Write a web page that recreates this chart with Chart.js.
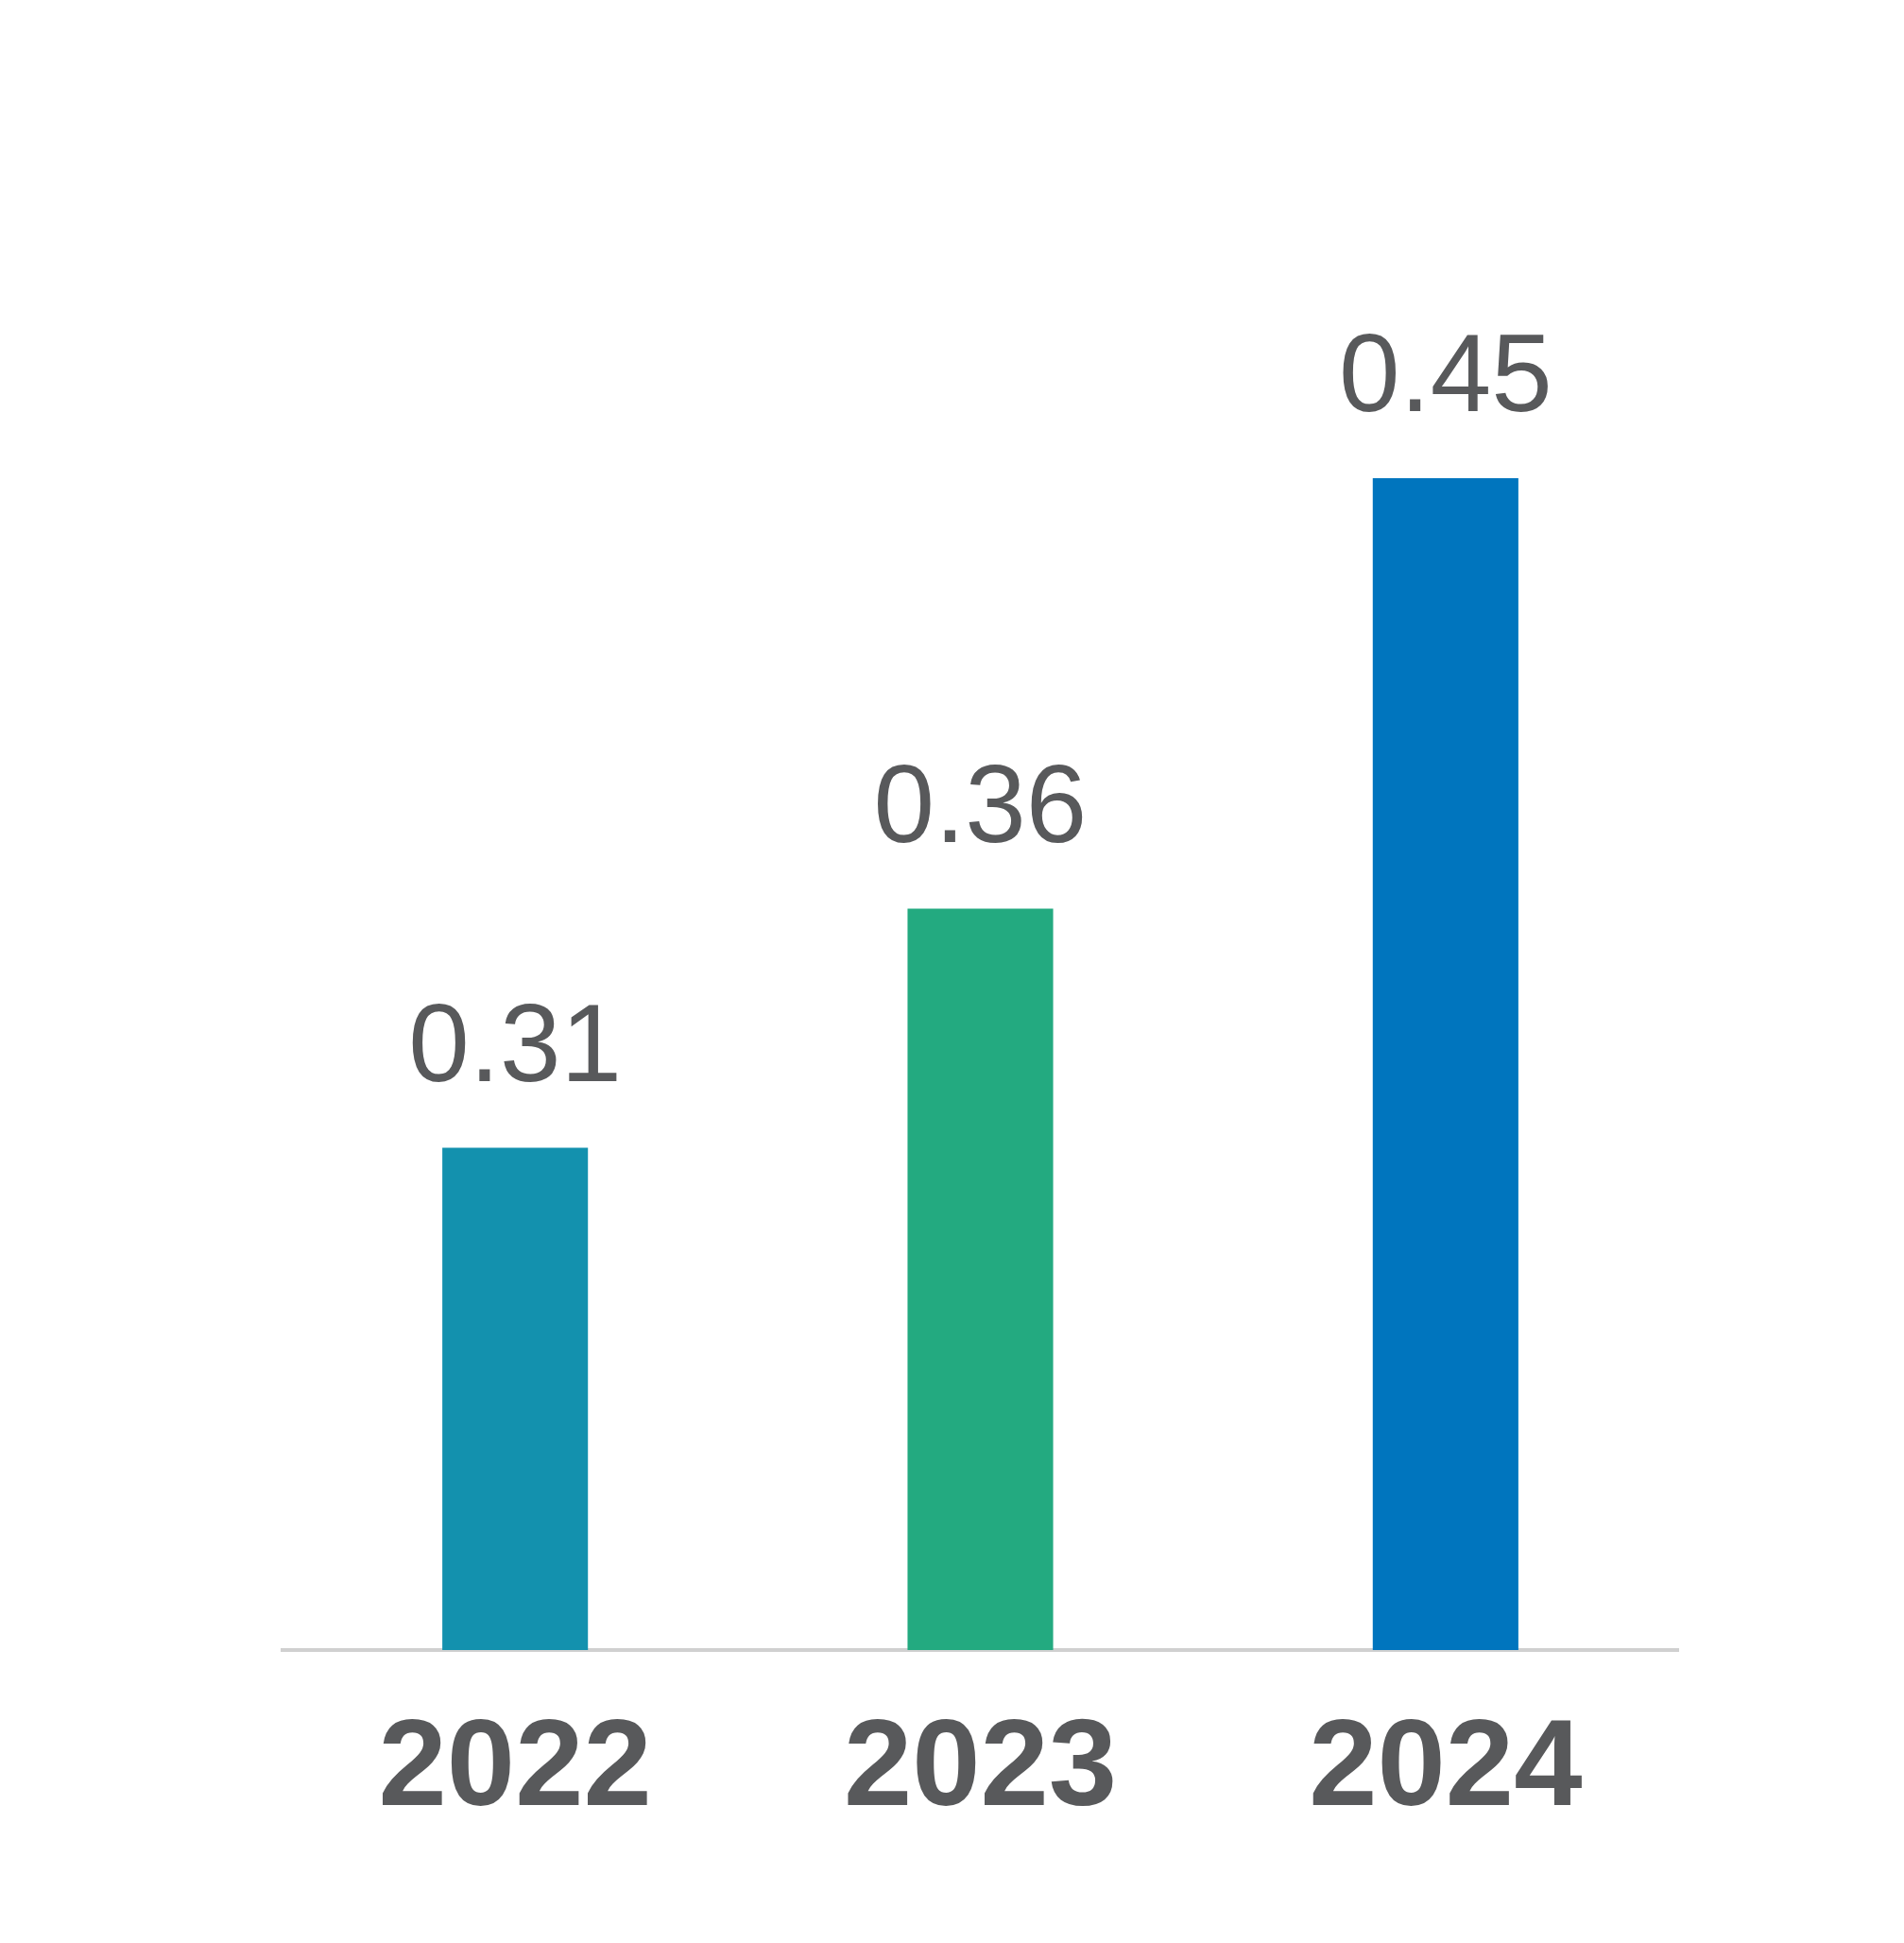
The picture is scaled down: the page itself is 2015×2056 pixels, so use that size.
<!DOCTYPE html>
<html>
<head>
<meta charset="utf-8">
<script src="https://cdn.jsdelivr.net/npm/chart.js@4"></script>
<style>
  body { margin: 0; background: #fff; }
  #wrap { width: 2015px; height: 2056px; }
</style>
</head>
<body>
<div id="wrap"><canvas id="chart"></canvas></div>
<script>
const years = ['2022', '2023', '2024'];
const values = [0.31, 0.36, 0.45];
const barColors = ['#1391AE', '#23AA80', '#0075BE'];
const textColor = '#58595B';

// value labels above each bar
const valueLabels = {
    id: 'valueLabels',
    afterDatasetsDraw(chart) {
        const ctx = chart.ctx;
        const meta = chart.getDatasetMeta(0);
        ctx.save();
        ctx.fillStyle = textColor;
        ctx.font = '116px "Liberation Sans", Arial, sans-serif';
        ctx.textAlign = 'center';
        ctx.textBaseline = 'bottom';
        meta.data.forEach(function(bar, i) {
            ctx.fillText(values[i].toFixed(2), bar.x, bar.y - 45);
        });
        ctx.restore();
    }
};

new Chart(document.getElementById('chart'), {
    type: 'bar',
    data: {
        labels: years,
        datasets: [{
            data: values,
            backgroundColor: barColors,
            barPercentage: 0.313,
            categoryPercentage: 1
        }]
    },
    options: {
        responsive: true,
        maintainAspectRatio: false,
        animation: false,
        layout: { padding: { left: 299, right: 239, top: 0, bottom: 54 } },
        plugins: { legend: { display: false }, tooltip: { enabled: false } },
        scales: {
            x: {
                grid: { display: false, drawTicks: false },
                border: { display: true, color: '#d0d0d0', width: 4 },
                ticks: {
                    color: textColor,
                    padding: 50,
                    font: { family: '"Liberation Sans", Arial, sans-serif', size: 130, weight: 'bold' }
                }
            },
            y: {
                display: false,
                min: 0.205,
                max: 0.55
            }
        }
    },
    plugins: [valueLabels]
});
</script>
</body>
</html>
